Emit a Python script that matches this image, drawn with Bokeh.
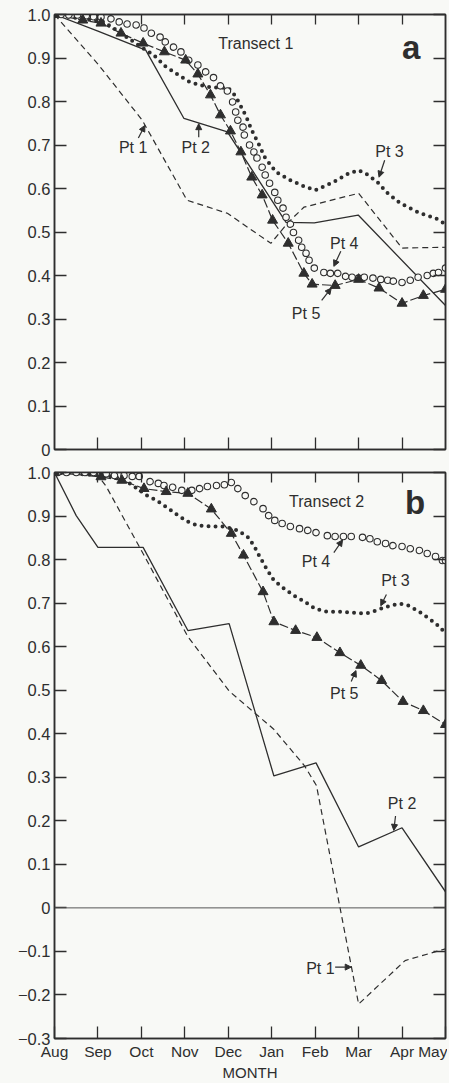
from bokeh.plotting import figure
from bokeh.models import Range1d, LinearAxis, FixedTicker, Label, Arrow, NormalHead, Span
from bokeh.layouts import column
from bokeh.embed import file_html
from bokeh.resources import INLINE

# ---------------- data ----------------
months = ["Aug", "Sep", "Oct", "Nov", "Dec", "Jan", "Feb", "Mar", "Apr", "May"]

# Transect 1 (panel a); x = months since 1 Aug (0 = Aug ... 9 = May)
a_pt1_x = [0, 1.0, 2.02, 3.05, 3.98, 4.98, 5.38, 5.74, 7.0, 8.0, 9.0]
a_pt1_y = [1.0, 0.886, 0.757, 0.573, 0.543, 0.474, 0.522, 0.557, 0.589, 0.463, 0.465]

a_pt2_x = [0, 1.0, 2.10, 2.98, 3.98, 5.33, 5.98, 6.99, 9.0]
a_pt2_y = [1.0, 0.962, 0.918, 0.761, 0.730, 0.522, 0.521, 0.539, 0.331]

a_pt3_x = [0, 0.65, 1.14, 1.53, 2.0, 2.28, 2.55, 2.85, 3.07, 3.32, 3.59, 4.0, 4.17, 4.29,
           4.41, 4.54, 4.71, 4.85, 5.10, 5.43, 5.74, 6.0, 6.41, 6.78, 7.0, 7.22, 7.44, 7.67,
           7.96, 8.42, 8.77, 9.0]
a_pt3_y = [1.0, 0.990, 0.983, 0.957, 0.925, 0.907, 0.881, 0.861, 0.847, 0.838, 0.833, 0.831,
           0.812, 0.789, 0.766, 0.734, 0.700, 0.670, 0.638, 0.619, 0.605, 0.596, 0.614, 0.635,
           0.642, 0.631, 0.614, 0.589, 0.566, 0.543, 0.532, 0.518]

a_pt4_x = [0, 0.15, 0.33, 0.53, 0.73, 0.90, 1.07, 1.30, 1.49, 1.67, 1.88, 2.06, 2.23, 2.43,
           2.55, 2.74, 2.91, 3.09, 3.30, 3.48, 3.66, 3.82, 3.98, 4.10, 4.17, 4.22, 4.34, 4.37,
           4.49, 4.59, 4.66, 4.78, 4.85, 4.95, 5.07, 5.14, 5.26, 5.33, 5.43, 5.50, 5.62, 5.69,
           5.79, 5.86, 5.98, 6.20, 6.35, 6.52, 6.70, 6.85, 7.00, 7.13, 7.33, 7.51, 7.67, 7.80,
           8.00, 8.19, 8.37, 8.58, 8.72, 8.84, 9.00]
a_pt4_y = [1.0, 1.0, 0.999, 0.999, 0.997, 0.995, 0.994, 0.990, 0.983, 0.978, 0.976, 0.969,
           0.957, 0.948, 0.937, 0.925, 0.914, 0.895, 0.884, 0.868, 0.855, 0.836, 0.824, 0.799,
           0.776, 0.757, 0.741, 0.723, 0.700, 0.684, 0.670, 0.649, 0.631, 0.612, 0.591, 0.573,
           0.555, 0.534, 0.518, 0.499, 0.481, 0.465, 0.451, 0.435, 0.417, 0.407, 0.405, 0.405,
           0.398, 0.396, 0.394, 0.396, 0.394, 0.391, 0.389, 0.387, 0.384, 0.389, 0.396, 0.400,
           0.405, 0.407, 0.417]

a_pt5_x = [0, 0.65, 1.07, 1.53, 2.04, 2.53, 3.02, 3.30, 3.59, 3.82, 4.05, 4.29, 4.54, 4.78,
           5.02, 5.38, 5.74, 5.93, 6.46, 7.00, 7.47, 8.00, 8.49, 9.00]
a_pt5_y = [1.0, 0.987, 0.980, 0.957, 0.934, 0.914, 0.895, 0.863, 0.815, 0.769, 0.732, 0.684,
           0.626, 0.585, 0.527, 0.474, 0.405, 0.380, 0.377, 0.391, 0.371, 0.336, 0.354, 0.368]

# Transect 2 (panel b)
b_pt1_x = [0, 1.0, 1.19, 2.06, 3.07, 4.02, 5.04, 5.75, 6.03, 7.0, 8.07, 9.0]
b_pt1_y = [1.0, 0.993, 0.968, 0.810, 0.623, 0.498, 0.411, 0.327, 0.281, -0.221, -0.121, -0.094]

b_pt2_x = [0, 0.5, 1.0, 2.04, 3.07, 4.02, 5.05, 6.02, 7.0, 8.0, 9.0]
b_pt2_y = [1.0, 0.901, 0.828, 0.828, 0.637, 0.653, 0.303, 0.333, 0.140, 0.184, 0.037]

b_pt3_x = [0, 0.78, 1.36, 1.67, 1.90, 2.13, 2.35, 2.63, 2.85, 3.07, 3.30, 3.61, 3.91, 4.22,
           4.44, 4.59, 4.71, 4.88, 5.05, 5.29, 5.52, 5.76, 6.0, 6.28, 6.57, 6.87, 7.15, 7.32,
           7.51, 7.72, 7.94, 8.16, 8.40, 8.63, 8.86, 9.0]
b_pt3_y = [1.0, 0.995, 0.991, 0.979, 0.963, 0.947, 0.936, 0.917, 0.901, 0.887, 0.878, 0.876,
           0.876, 0.867, 0.853, 0.832, 0.809, 0.779, 0.752, 0.733, 0.717, 0.703, 0.687, 0.680,
           0.680, 0.678, 0.676, 0.680, 0.687, 0.694, 0.699, 0.694, 0.680, 0.664, 0.646, 0.630]

b_pt4_x = [0.075, 0.275, 0.5, 0.7, 0.9, 1.19, 1.38, 1.6, 1.79, 1.95, 2.2, 2.39, 2.52, 2.72,
           2.93, 3.16, 3.34, 3.52, 3.73, 3.91, 4.07, 4.22, 4.39, 4.59, 4.8, 4.93, 5.07, 5.24,
           5.43, 5.64, 5.83, 6.02, 6.28, 6.46, 6.65, 6.83, 7.09, 7.26, 7.43, 7.62, 7.79, 8.0,
           8.19, 8.4, 8.58, 8.77, 8.93, 9.0]
b_pt4_y = [1.0, 1.0, 1.0, 1.0, 1.0, 0.997, 0.993, 0.993, 0.991, 0.991, 0.979, 0.975, 0.970,
           0.966, 0.959, 0.959, 0.963, 0.968, 0.970, 0.972, 0.977, 0.963, 0.947, 0.933, 0.917,
           0.901, 0.890, 0.883, 0.876, 0.871, 0.867, 0.862, 0.855, 0.853, 0.853, 0.853, 0.851,
           0.848, 0.841, 0.837, 0.832, 0.830, 0.825, 0.821, 0.814, 0.807, 0.798, 0.798]

b_pt5_x = [0, 1.07, 1.55, 2.06, 2.57, 3.07, 3.61, 4.07, 4.35, 4.80, 5.05, 5.55, 6.04, 6.57,
           7.05, 7.53, 8.02, 8.49, 9.0]
b_pt5_y = [1.0, 0.990, 0.982, 0.963, 0.956, 0.952, 0.916, 0.860, 0.810, 0.726, 0.657, 0.637,
           0.621, 0.586, 0.557, 0.522, 0.474, 0.453, 0.421]

a_yticks = [round(0.1 * i, 1) for i in range(0, 11)]
b_yticks = [round(0.1 * i, 1) for i in range(-3, 11)]

# ---------------- style ----------------
INK = "#2e2e2e"
BG = "#f8f9f6"
FONT = "Liberation Sans"


def ylabel(t):
    if t == 0:
        return "0"
    s = "%.1f" % abs(t)
    return ("\u2212" + s) if t < 0 else s


def tick_only_axis(ticks, tick_in):
    # axis that shows inward ticks only (labels switched off)
    return LinearAxis(ticker=FixedTicker(ticks=ticks), major_label_text_color=None,
                      major_label_standoff=0, major_tick_in=tick_in, major_tick_out=0,
                      minor_tick_line_color=None, axis_line_color=INK, axis_line_width=1.5,
                      major_tick_line_color=INK, major_tick_line_width=1.3)


def make_panel(yr, yticks, frame_h, b_left, b_top, b_bottom, show_x):
    p = figure(frame_width=391, frame_height=frame_h,
               x_range=Range1d(0, 9), y_range=Range1d(*yr),
               output_backend="svg", toolbar_location=None,
               min_border_left=b_left, min_border_right=4,
               min_border_top=b_top, min_border_bottom=b_bottom,
               background_fill_color=BG, border_fill_color=BG,
               outline_line_color=INK, outline_line_width=1.5)
    p.grid.visible = False

    xa = p.xaxis[0]
    xa.ticker = FixedTicker(ticks=list(range(10)) if show_x else list(range(1, 9)))
    xa.major_tick_in = 12
    xa.major_tick_out = 0
    xa.minor_tick_line_color = None
    xa.axis_line_color = INK
    xa.axis_line_width = 1.5
    xa.major_tick_line_color = INK
    xa.major_tick_line_width = 1.3
    if show_x:
        xa.major_label_overrides = {i: m for i, m in enumerate(months)}
        xa.major_label_text_font = FONT
        xa.major_label_text_font_size = "15.5px"
        xa.major_label_text_color = INK
        xa.major_label_standoff = 4
        xa.axis_label = "MONTH"
        xa.axis_label_text_font = FONT
        xa.axis_label_text_font_size = "15px"
        xa.axis_label_text_font_style = "normal"
        xa.axis_label_text_color = INK
        xa.axis_label_standoff = 1
    else:
        xa.major_label_text_color = None
        xa.major_label_standoff = 0

    ya = p.yaxis[0]
    ya.ticker = FixedTicker(ticks=yticks)
    ya.major_label_overrides = {t: ylabel(t) for t in yticks}
    ya.major_tick_in = 12
    ya.major_tick_out = 0
    ya.minor_tick_line_color = None
    ya.axis_line_color = INK
    ya.axis_line_width = 1.5
    ya.major_tick_line_color = INK
    ya.major_tick_line_width = 1.3
    ya.major_label_text_font = FONT
    ya.major_label_text_font_size = "16.5px"
    ya.major_label_text_color = INK
    ya.major_label_standoff = 4

    p.add_layout(tick_only_axis(yticks, 12), "right")
    p.add_layout(tick_only_axis(list(range(1, 9)), 10), "above")
    return p


def draw_series(p, s1, s2, s3, s4, s5):
    p.line(s1[0], s1[1], line_color=INK, line_width=1.2, line_dash="6 4")
    p.line(s2[0], s2[1], line_color=INK, line_width=1.3)
    p.line(s3[0], s3[1], line_color=INK, line_width=4.0, line_dash="0 7", line_cap="round")
    p.line(s5[0], s5[1], line_color=INK, line_width=1.2, line_dash="9 3")
    p.scatter(s4[0], s4[1], marker="circle", size=6.5, line_color=INK, line_width=1.1, fill_color=BG)
    p.scatter(s5[0], s5[1], marker="triangle", size=10, line_color=INK, fill_color=INK)


def annotate(p, title, letter, notes):
    t, tx, ty = title
    p.add_layout(Label(x=tx, y=ty, text=t, text_font=FONT, text_font_size="16px",
                       text_color=INK, text_baseline="middle", text_align="left"))
    l, lx, ly = letter
    p.add_layout(Label(x=lx, y=ly, text=l, text_font=FONT, text_font_size="33px",
                       text_font_style="bold", text_color=INK, text_baseline="middle",
                       text_align="left"))
    for (txt, x, y, x0, y0, x1, y1) in notes:
        p.add_layout(Label(x=x, y=y, text=txt, text_font=FONT, text_font_size="16px",
                           text_color=INK, text_baseline="middle", text_align="center"))
        p.add_layout(Arrow(x_start=x0, y_start=y0, x_end=x1, y_end=y1, line_color=INK,
                           line_width=1.2,
                           end=NormalHead(size=6, line_color=INK, fill_color=INK, line_width=1)))


# ---------------- panel a ----------------
pa = make_panel((0, 1), a_yticks, 435, 54, 14, 10, False)
draw_series(pa, (a_pt1_x, a_pt1_y), (a_pt2_x, a_pt2_y), (a_pt3_x, a_pt3_y),
            (a_pt4_x, a_pt4_y), (a_pt5_x, a_pt5_y))
annotate(pa, ("Transect 1", 3.77, 0.934), ("a", 8.0, 0.923), [
    ("Pt 1", 1.81, 0.695, 1.93, 0.716, 2.08, 0.745),
    ("Pt 2", 3.25, 0.695, 3.32, 0.718, 3.32, 0.749),
    ("Pt 3", 7.71, 0.686, 7.60, 0.665, 7.47, 0.626),
    ("Pt 4", 6.67, 0.474, 6.59, 0.456, 6.43, 0.421),
    ("Pt 5", 5.79, 0.313, 6.15, 0.343, 6.37, 0.371),
])

# ---------------- panel b ----------------
pb = make_panel((-0.3, 1), b_yticks, 566, 52, 13, 38, True)
pb.add_layout(Span(location=0, dimension="width", line_color="#555555", line_width=1))
draw_series(pb, (b_pt1_x, b_pt1_y), (b_pt2_x, b_pt2_y), (b_pt3_x, b_pt3_y),
            (b_pt4_x, b_pt4_y), (b_pt5_x, b_pt5_y))
annotate(pb, ("Transect 2", 5.40, 0.933), ("b", 8.07, 0.931), [
    ("Pt 4", 6.02, 0.795, 6.43, 0.816, 6.63, 0.845),
    ("Pt 3", 7.85, 0.752, 7.64, 0.720, 7.51, 0.694),
    ("Pt 5", 6.67, 0.492, 6.83, 0.520, 6.94, 0.545),
    ("Pt 2", 8.00, 0.239, 7.85, 0.211, 7.81, 0.178),
    ("Pt 1", 6.12, -0.140, 6.46, -0.136, 6.83, -0.136),
])

layout = column(pa, pb, spacing=0, styles={"background-color": BG})
open("out.html", "w").write(file_html(layout, INLINE))
